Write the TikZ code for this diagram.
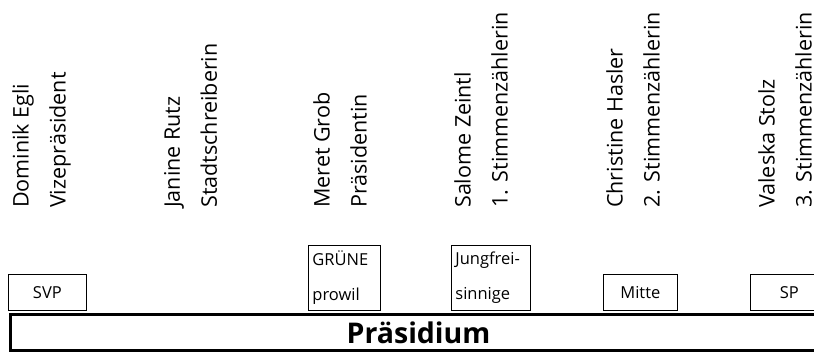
\documentclass[tikz,border=0pt]{standalone}
\usepackage{fontspec}
\setmainfont{Open Sans}
\begin{document}
\begin{tikzpicture}[x=1pt, y=-1pt,
  member/.style={rotate=90, anchor=north west, align=left, inner sep=0pt, font=\fontsize{21.5}{37}\selectfont},
  party/.style={draw, line width=0.8pt, anchor=south west, inner sep=4pt, minimum height=36pt, font=\fontsize{16.5}{18}\selectfont},
  tallparty/.style={party, minimum height=65pt, align=left, text width=#1},
  board/.style={draw, line width=3pt, anchor=north west, minimum width=817pt, minimum height=36pt, font=\fontsize{28.5}{30}\selectfont\bfseries}]
\useasboundingbox (0,0) rectangle (814,351);
\clip (0,0) rectangle (814,351);
% members
\node[member] (m0) at (12,208) {Dominik Egli\\Vizepräsident};
\node[member] (m1) at (164,208) {Janine Rutz\\Stadtschreiberin};
\node[member] (m2) at (313,208) {Meret Grob\\Präsidentin};
\node[member] (m3) at (454,208) {Salome Zeintl\\1. Stimmenzählerin};
\node[member] (m4) at (606,208) {Christine Hasler\\2. Stimmenzählerin};
\node[member] (m5) at (758,208) {Valeska Stolz\\3. Stimmenzählerin};
% parties
\node[party, minimum width=78pt] (p0) at (8,311) {SVP};
\node[tallparty=64pt] (p1) at (308,311) {GRÜNE\\[17pt]prowil};
\node[tallparty=71pt] (p2) at (451,311) {Jungfrei-\\[17pt]sinnige};
\node[party, minimum width=74pt] (p3) at (603,311) {Mitte};
\node[party, minimum width=78pt] (p4) at (750,311) {SP};
% board
\node[board] (pr) at (8.5,313) {Präsidium};
\end{tikzpicture}
\end{document}
